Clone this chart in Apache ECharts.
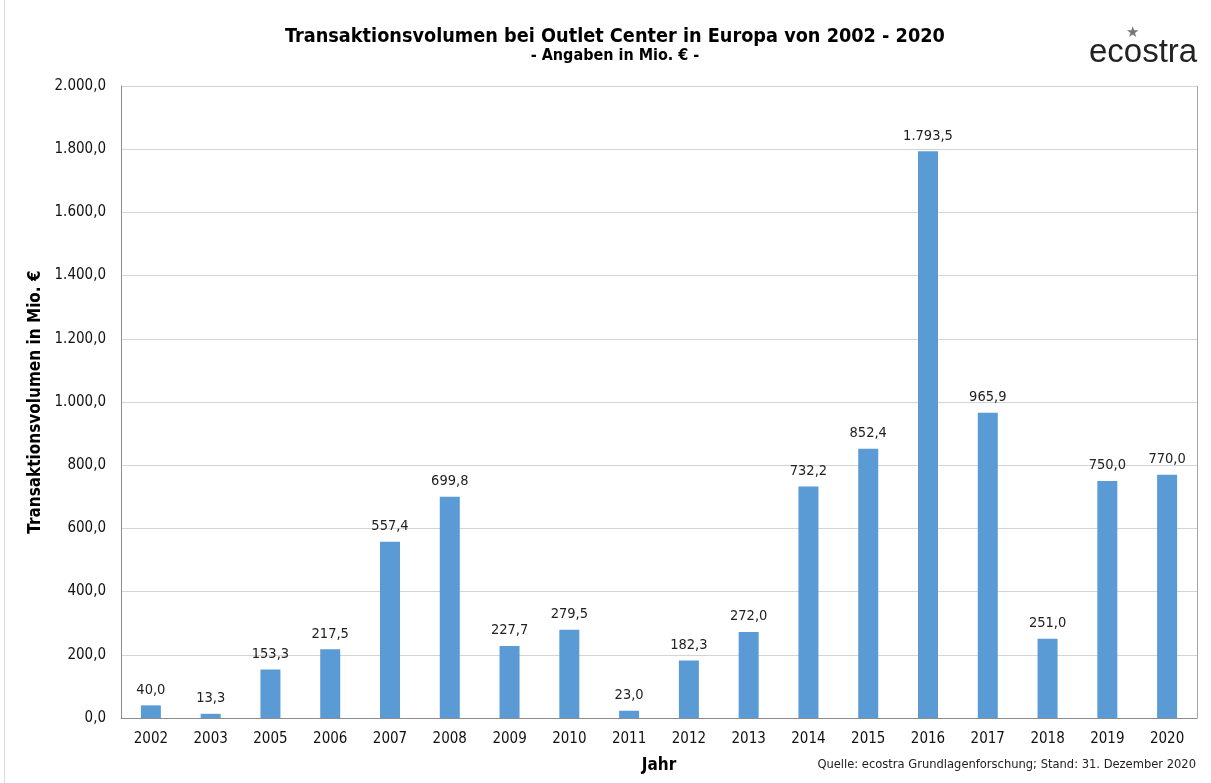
<!DOCTYPE html>
<html>
<head>
<meta charset="utf-8">
<script src="https://cdn.jsdelivr.net/npm/echarts@6/dist/echarts.min.js"></script>
<style>
html,body{margin:0;padding:0;background:#fff;}
#c{width:1211px;height:783px;}
</style>
</head>
<body>
<div id="c"></div>
<script>
const categories = ['2002','2003','2005','2006','2007','2008','2009','2010','2011','2012','2013','2014','2015','2016','2017','2018','2019','2020'];
const values = [40.0,13.3,153.3,217.5,557.4,699.8,227.7,279.5,23.0,182.3,272.0,732.2,852.4,1793.5,965.9,251.0,750.0,770.0];
const yTicks = [0,200,400,600,800,1000,1200,1400,1600,1800,2000];

const FONT = '"DejaVu Sans Condensed","DejaVu Sans",sans-serif';
function fmt(v){
  const s = v.toFixed(1).split('.');
  const int = s[0].replace(/\B(?=(\d{3})+(?!\d))/g,'.');
  return int + ',' + s[1];
}
const chart = echarts.init(document.getElementById('c'));
chart.setOption({
  animation:false,
  backgroundColor:'#fff',
  textStyle:{fontFamily:FONT},
  title:{
    text:'Transaktionsvolumen bei Outlet Center in Europa von 2002 - 2020',
    subtext:'- Angaben in Mio. € -',
    left:610, textAlign:'center', top:22, itemGap:1,
    textStyle:{fontFamily:FONT,fontSize:19.7,fontWeight:'bold',color:'#000'},
    subtextStyle:{fontFamily:FONT,fontSize:16,fontWeight:'bold',color:'#000'}
  },
  grid:{left:121,right:14,top:86,bottom:65,show:false},
  xAxis:{
    type:'category', data:categories,
    name:'Jahr', nameLocation:'middle', nameGap:39,
    nameTextStyle:{fontFamily:FONT,fontSize:17,fontWeight:'bold',color:'#000'},
    axisLine:{lineStyle:{color:'#8c8c8c',width:1}},
    axisTick:{show:false},
    axisLabel:{fontFamily:FONT,fontSize:15,color:'#111',margin:14,interval:0}
  },
  yAxis:{
    type:'value', min:0, max:2000, interval:200,
    name:'Transaktionsvolumen in Mio. €', nameLocation:'middle', nameGap:75, nameRotate:90,
    nameTextStyle:{fontFamily:FONT,fontSize:17,fontWeight:'bold',color:'#000'},
    axisLine:{show:true,lineStyle:{color:'#8c8c8c',width:1}},
    axisTick:{show:false},
    splitLine:{lineStyle:{color:'#d4d4d4',width:1}},
    axisLabel:{fontFamily:FONT,fontSize:15,color:'#111',margin:15,
      formatter:function(v){return yTicks.indexOf(v)>=0?fmt(v):'';}}
  },
  series:[{
    type:'bar', data:values, barWidth:20,
    itemStyle:{color:'#5b9bd5'},
    label:{show:true,position:'top',distance:8,fontFamily:FONT,fontSize:14.5,color:'#222',
      formatter:function(p){return fmt(p.value);}}
  }],
  graphic:[
    {type:'line',shape:{x1:4.5,y1:0,x2:4.5,y2:783},style:{stroke:'#d9d9d9',lineWidth:1}},
    {type:'line',shape:{x1:1197.5,y1:86,x2:1197.5,y2:718},style:{stroke:'#a6a6a6',lineWidth:1}},
    {type:'text',left:1089,top:36,style:{text:'ecostra',fontFamily:'"Liberation Sans","DejaVu Sans",sans-serif',fontSize:33,fill:'#222'}},
    {type:'text',left:1126,top:26,style:{text:'★',fontFamily:'"DejaVu Sans",sans-serif',fontSize:15,fill:'#777'}},
    {type:'text',right:15,top:758,style:{text:'Quelle: ecostra Grundlagenforschung; Stand: 31. Dezember 2020',fontFamily:FONT,fontSize:12.8,fill:'#222'}}
  ]
});
</script>
</body>
</html>
